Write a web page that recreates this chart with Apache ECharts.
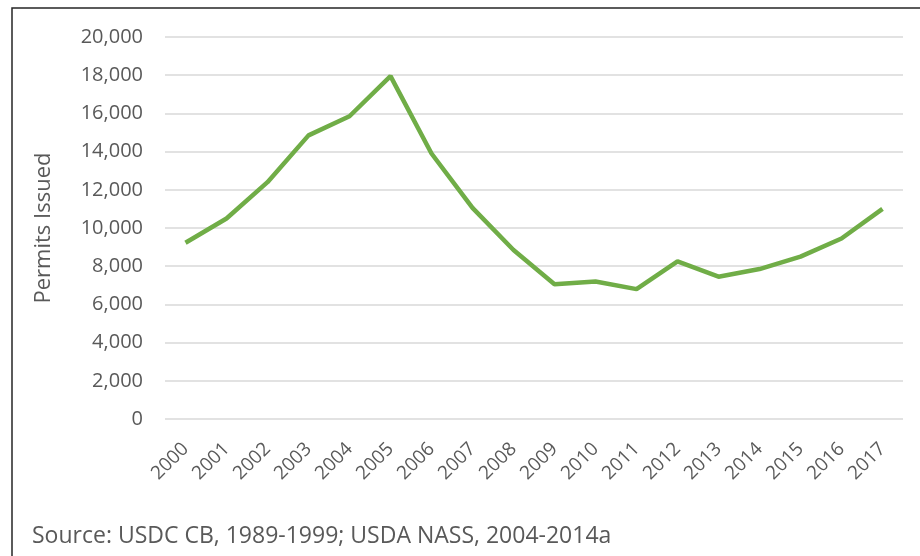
<!DOCTYPE html>
<html>
<head>
<meta charset="utf-8">
<script src="https://cdn.jsdelivr.net/npm/echarts@6/dist/echarts.min.js"></script>
<style>
  html, body { margin: 0; padding: 0; background: #fff; }
  #chart { width: 920px; height: 556px; }
</style>
</head>
<body>
<div id="chart"></div>
<script>
// permits issued per year
var years = ['2000', '2001', '2002', '2003', '2004', '2005', '2006', '2007', '2008',
  '2009', '2010', '2011', '2012', '2013', '2014', '2015', '2016', '2017']
var permits = [9230, 10500, 12400, 14850, 15850, 17950, 13900, 11050, 8850,
  7050, 7200, 6800, 8250, 7450, 7850, 8500, 9450, 11000]

var font = '"Open Sans", "Liberation Sans", sans-serif'
var chart = echarts.init(document.getElementById('chart'))

chart.setOption({
  animation: false,
  grid: {
    left: 165,
    right: 17,
    top: 37,
    bottom: 137
  },
  xAxis: {
    type: 'category',
    data: years,
    boundaryGap: true,
    axisLine: { show: false },
    axisTick: { show: false },
    axisLabel: {
      rotate: 45,
      margin: 27,
      color: '#595959',
      fontFamily: font,
      fontSize: 19
    }
  },
  yAxis: {
    type: 'value',
    min: 0,
    max: 20000,
    interval: 2000,
    name: 'Permits Issued',
    nameLocation: 'middle',
    nameGap: 110,
    nameTextStyle: { color: '#595959', fontFamily: font, fontSize: 22 },
    axisLine: { show: false },
    axisTick: { show: false },
    axisLabel: {
      margin: 22,
      color: '#595959',
      fontFamily: font,
      fontSize: 20,
      formatter: function (v) { return v.toLocaleString('en-US') }
    },
    splitLine: { lineStyle: { color: '#d9d9d9', width: 1.5 } }
  },
  series: [
    {
      name: 'Permits Issued',
      type: 'line',
      data: permits,
      symbol: 'none',
      lineStyle: { color: '#70ad47', width: 4.5 }
    }
  ],
  graphic: [
    {
      type: 'rect',
      shape: { x: 12, y: 8, width: 930, height: 600 },
      style: { fill: 'none', stroke: '#262626', lineWidth: 1.5 }
    },
    {
      type: 'text',
      left: 32,
      top: 525,
      style: {
        text: 'Source: USDC CB, 1989-1999; USDA NASS, 2004-2014a',
        fill: '#595959',
        font: '23px ' + font
      }
    }
  ]
})
</script>
</body>
</html>
